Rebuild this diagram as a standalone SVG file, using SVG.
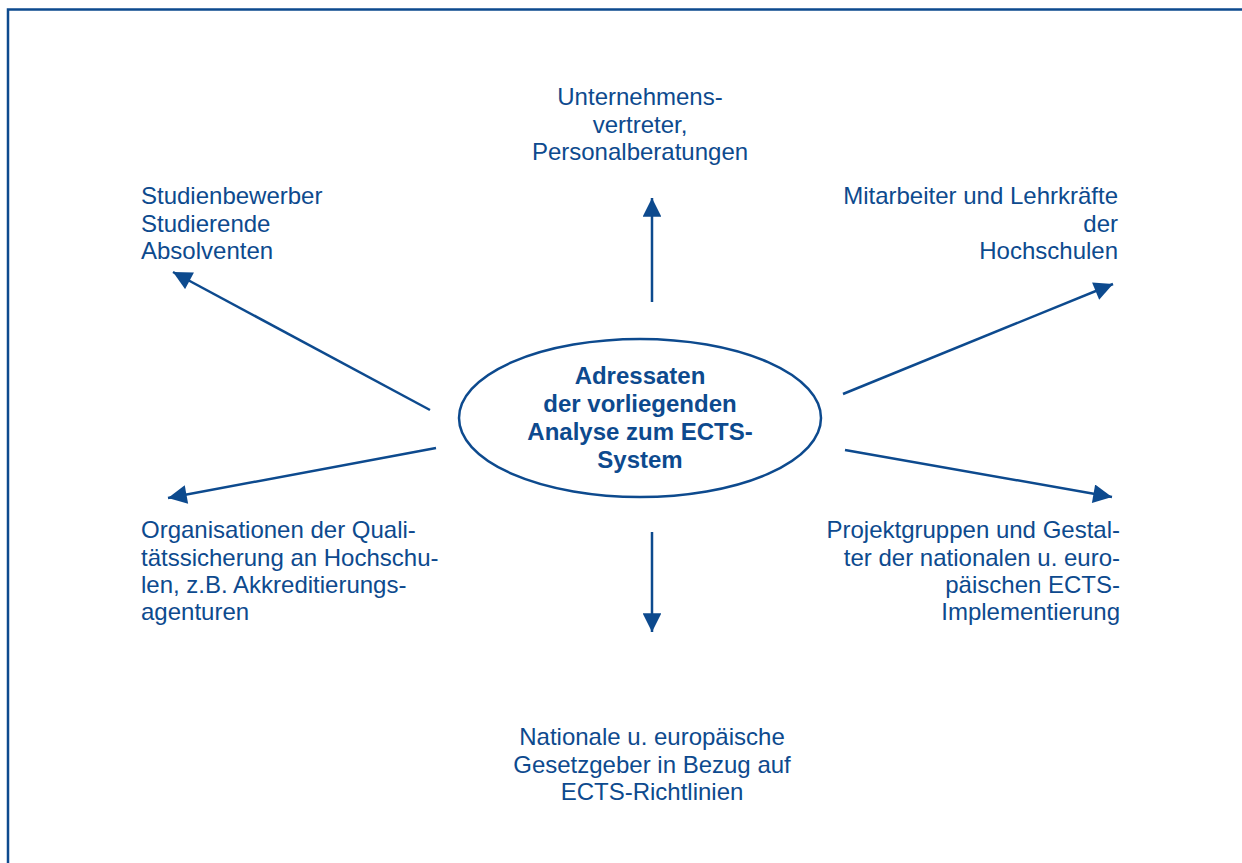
<svg xmlns="http://www.w3.org/2000/svg" width="1242" height="863" viewBox="0 0 1242 863">
<style>
text{font-family:"Liberation Sans",Arial,sans-serif;font-size:24px;fill:#0d4a8e}
.b{font-weight:bold}
.m{text-anchor:middle}
.e{text-anchor:end}
.c line{stroke:#0d4a8e;stroke-width:2.5;marker-end:url(#ah)}
</style>
<defs>
<marker id="ah" viewBox="0 0 10 10" refX="10" refY="5" markerWidth="8" markerHeight="7.5" markerUnits="strokeWidth" orient="auto">
<path d="M0,0 L10,5 L0,10 Z" fill="#0d4a8e"/>
</marker>
</defs>
<rect width="1242" height="863" fill="#fff"/>
<path d="M8,863 V9.5 H1242" fill="none" stroke="#0d4a8e" stroke-width="2.5"/>
<g id="center">
<ellipse cx="640" cy="418" rx="181" ry="79" fill="none" stroke="#0d4a8e" stroke-width="2.5"/>
<text class="b m" x="640" y="384">Adressaten</text>
<text class="b m" x="640" y="412">der vorliegenden</text>
<text class="b m" x="640" y="440">Analyse zum ECTS-</text>
<text class="b m" x="640" y="468">System</text>
</g>
<g id="top">
<text class="m" x="640" y="105">Unternehmens-</text>
<text class="m" x="640" y="133">vertreter,</text>
<text class="m" x="640" y="160">Personalberatungen</text>
</g>
<g id="topleft">
<text x="141" y="204">Studienbewerber</text>
<text x="141" y="232">Studierende</text>
<text x="141" y="259">Absolventen</text>
</g>
<g id="topright">
<text class="e" x="1118" y="204">Mitarbeiter und Lehrkräfte</text>
<text class="e" x="1118" y="232">der</text>
<text class="e" x="1118" y="259">Hochschulen</text>
</g>
<g id="bottomleft">
<text x="141" y="538">Organisationen der Quali-</text>
<text x="141" y="566">tätssicherung an Hochschu-</text>
<text x="141" y="593">len, z.B. Akkreditierungs-</text>
<text x="141" y="620">agenturen</text>
</g>
<g id="bottomright">
<text class="e" x="1120" y="538">Projektgruppen und Gestal-</text>
<text class="e" x="1120" y="566">ter der nationalen u. euro-</text>
<text class="e" x="1120" y="593">päischen ECTS-</text>
<text class="e" x="1120" y="620">Implementierung</text>
</g>
<g id="bottom">
<text class="m" x="652" y="745">Nationale u. europäische</text>
<text class="m" x="652" y="773">Gesetzgeber in Bezug auf</text>
<text class="m" x="652" y="800">ECTS-Richtlinien</text>
</g>
<g class="c" id="connectors">
<line x1="652" y1="302" x2="652" y2="198"/>
<line x1="652" y1="532" x2="652" y2="632"/>
<line x1="430" y1="410" x2="173" y2="272"/>
<line x1="843" y1="394" x2="1113" y2="284"/>
<line x1="436" y1="448" x2="168" y2="498"/>
<line x1="845" y1="450" x2="1112" y2="497"/>
</g>
</svg>
